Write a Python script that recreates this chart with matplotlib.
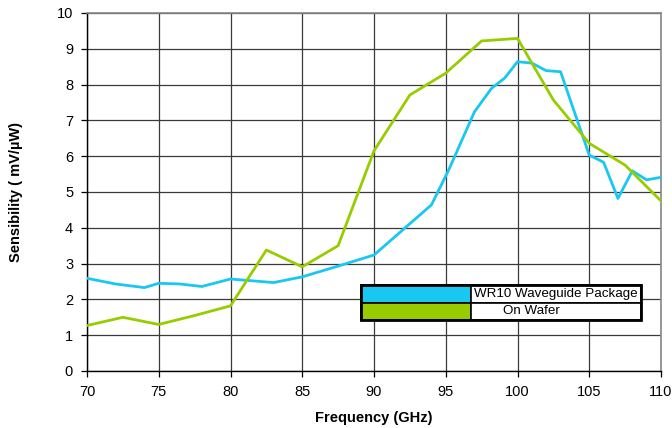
import matplotlib.pyplot as plt
from matplotlib.patches import Rectangle

plt.rcParams['font.family'] = ['Liberation Sans', 'DejaVu Sans']

# WR10 waveguide package
wg_freq = [70, 72, 74, 75, 76.5, 78, 80, 81.5, 83, 85, 87.5, 90, 92, 94, 95.2,
           97, 98.2, 99.1, 100, 101, 102, 103, 105, 106, 107, 108, 109, 110]
wg_sens = [2.59, 2.43, 2.33, 2.45, 2.43, 2.36, 2.57, 2.52, 2.47, 2.63, 2.93, 3.24,
           3.94, 4.64, 5.61, 7.24, 7.9, 8.18, 8.64, 8.6, 8.39, 8.36, 6.03, 5.83,
           4.82, 5.59, 5.34, 5.41]

# on wafer
ow_freq = [70, 72.5, 75, 77.5, 80, 82.5, 85, 87.5, 90, 92.5, 95, 97.5, 100,
           102.5, 105, 107.5, 110]
ow_sens = [1.27, 1.5, 1.3, 1.55, 1.82, 3.38, 2.91, 3.5, 6.15, 7.71, 8.32, 9.22,
           9.29, 7.57, 6.36, 5.75, 4.75]

labels = ['WR10 Waveguide Package', 'On Wafer']
colors = ['#19C8F0', '#99CC00']

fig = plt.figure(figsize=(6.72, 4.28), dpi=100)
ax = fig.add_axes([87 / 672, 57 / 428, 574 / 672, 358 / 428])

ax.plot(wg_freq, wg_sens, color=colors[0], lw=2.0, zorder=3)
ax.plot(ow_freq, ow_sens, color=colors[1], lw=2.0, zorder=3)

ax.set_xlim(70, 110)
ax.set_ylim(0, 10)
ax.set_xticks(range(70, 111, 5))
ax.set_yticks(range(0, 11))
ax.grid(True, color='#3a3a3a', lw=0.9, zorder=1)
ax.tick_params(labelsize=10.5, length=4, width=0.9, direction='out', pad=6)
for s in ['top', 'right']:
    ax.spines[s].set_color('#888888')
    ax.spines[s].set_linewidth(1.2)
for s in ['left', 'bottom']:
    ax.spines[s].set_linewidth(1.0)

ax.set_xlabel('Frequency (GHz)', fontsize=10.5, fontweight='bold', labelpad=9)
ax.set_ylabel('Sensibility ( mV/µW)', fontsize=10.5, fontweight='bold', labelpad=24)

# table-like legend
x0, xs, x1 = 0.477, 0.669, 0.965
yt, ym, yb = 0.240, 0.191, 0.142
rows = [(ym, yt), (yb, ym)]
for (lo, hi), c in zip(rows, colors):
    ax.add_patch(Rectangle((x0, lo), xs - x0, hi - lo, transform=ax.transAxes,
                           facecolor=c, edgecolor='black', lw=1.2, zorder=5))
    ax.add_patch(Rectangle((xs, lo), x1 - xs, hi - lo, transform=ax.transAxes,
                           facecolor='white', edgecolor='black', lw=1.2, zorder=5))
ax.text(xs + 0.006, (ym + yt) / 2, labels[0], transform=ax.transAxes,
        ha='left', va='center', fontsize=9.6, zorder=6)
ax.text(xs + 0.055, (yb + ym) / 2, labels[1], transform=ax.transAxes,
        ha='left', va='center', fontsize=9.6, zorder=6)
ax.add_patch(Rectangle((x0, yb), x1 - x0, yt - yb, transform=ax.transAxes,
                       fill=False, edgecolor='black', lw=2.0, zorder=7))

fig.savefig('out.png', dpi=100)
